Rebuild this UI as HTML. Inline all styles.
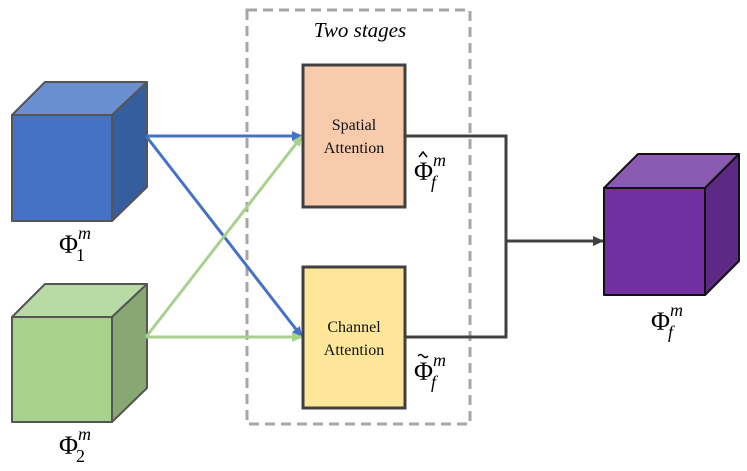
<!DOCTYPE html>
<html><head><meta charset="utf-8"><style>
html,body{margin:0;padding:0;background:#fff;}
svg{display:block;}
.m{font-family:"Liberation Serif",serif;}
</style></head><body>
<svg width="747" height="471" viewBox="0 0 747 471" xmlns="http://www.w3.org/2000/svg">
<defs>
<marker id="ab" markerWidth="11" markerHeight="10" refX="10" refY="5" orient="auto" markerUnits="userSpaceOnUse"><path d="M0,0 L11,5 L0,10 Z" fill="#4472c4"/></marker>
<marker id="ag" markerWidth="11" markerHeight="10" refX="10" refY="5" orient="auto" markerUnits="userSpaceOnUse"><path d="M0,0 L11,5 L0,10 Z" fill="#a9d18e"/></marker>
<marker id="ak" markerWidth="11" markerHeight="10" refX="10" refY="5" orient="auto" markerUnits="userSpaceOnUse"><path d="M0,0 L11,5 L0,10 Z" fill="#404040"/></marker>
</defs>
<rect x="247" y="10" width="223" height="414" fill="none" stroke="#a6a6a6" stroke-width="3" stroke-dasharray="10,6"/>
<text x="360" y="37" text-anchor="middle" font-family="Liberation Serif,serif" font-style="italic" font-size="21">Two stages</text>
<g stroke="#555" stroke-width="2" stroke-linejoin="round">
<polygon points="12,115 45,82 147,82 112,115" fill="#6a8fd0"/>
<polygon points="112,115 147,82 147,187 112,221" fill="#355e9f"/>
<rect x="12" y="115" width="100" height="106" fill="#4472c4"/>
<polygon points="12,317 45,284 147,284 112,317" fill="#b8daa4"/>
<polygon points="112,317 147,284 147,388 112,422" fill="#87a872"/>
<rect x="12" y="317" width="100" height="105" fill="#a9d18e"/>
</g>
<g stroke="#111" stroke-width="2" stroke-linejoin="round">
<polygon points="604,188 638,154 739,154 705,188" fill="#8a5bb0"/>
<polygon points="705,188 739,154 739,261 705,295" fill="#5c2a85"/>
<rect x="604" y="188" width="101" height="107" fill="#7030a0"/>
</g>
<g stroke-width="3" fill="none">
<line x1="146" y1="136" x2="302" y2="136" stroke="#4472c4" marker-end="url(#ab)"/>
<line x1="146" y1="136" x2="302" y2="337" stroke="#4472c4" marker-end="url(#ab)"/>
<line x1="146" y1="337" x2="302" y2="136" stroke="#a9d18e" marker-end="url(#ag)"/>
<line x1="146" y1="337" x2="302" y2="337" stroke="#a9d18e" marker-end="url(#ag)"/>
<polyline points="405,136 506,136 506,337 405,337" stroke="#404040"/>
<line x1="506" y1="241" x2="603" y2="241" stroke="#404040" marker-end="url(#ak)"/>
</g>
<rect x="303" y="65" width="102" height="142" fill="#f8cbad" stroke="#404040" stroke-width="3"/>
<rect x="303" y="267" width="102" height="141" fill="#ffe699" stroke="#404040" stroke-width="3"/>
<g font-family="Liberation Serif,serif" font-size="16" text-anchor="middle" fill="#111">
<text x="354" y="130">Spatial</text><text x="354" y="153">Attention</text>
<text x="354" y="332">Channel</text><text x="354" y="355">Attention</text>
</g>
<g class="m" fill="#000">
<text x="59" y="253" font-size="26">Φ<tspan font-size="18" font-style="italic" dy="-14">m</tspan><tspan font-size="18" dx="-15" dy="22">1</tspan></text>
<text x="59" y="454" font-size="26">Φ<tspan font-size="18" font-style="italic" dy="-14">m</tspan><tspan font-size="18" dx="-15" dy="22">2</tspan></text>
<text x="414" y="180" font-size="26">Φ<tspan font-size="18" font-style="italic" dy="-14">m</tspan><tspan font-size="18" font-style="italic" dx="-15" dy="22">f</tspan></text>
<path d="M419,157 L423,152 L427,157" stroke="#000" stroke-width="1.5" fill="none"/>
<text x="414" y="380" font-size="26">Φ<tspan font-size="18" font-style="italic" dy="-14">m</tspan><tspan font-size="18" font-style="italic" dx="-15" dy="22">f</tspan></text>
<path d="M418,356 q2.5,-3 5,0 t5,0" stroke="#000" stroke-width="1.5" fill="none"/>
<text x="651" y="330" font-size="26">Φ<tspan font-size="18" font-style="italic" dy="-14">m</tspan><tspan font-size="18" font-style="italic" dx="-15" dy="22">f</tspan></text>
</g>
</svg>
</body></html>
